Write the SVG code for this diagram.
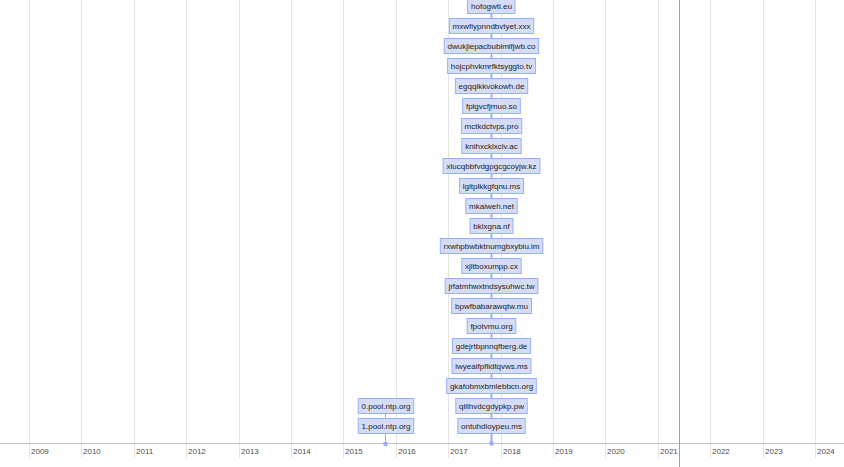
<svg xmlns="http://www.w3.org/2000/svg" width="844" height="467" viewBox="0 0 844 467">
<style>
.grid{stroke:#e5e5e5;stroke-width:1}
.axis{stroke:#bfbfbf;stroke-width:1}
.yr{font-family:"Liberation Sans",Arial,sans-serif;font-size:8px;fill:#4d4d4d}
.box rect{fill:#d5ddf6;stroke:#97b0f8;stroke-width:1}
.box text{font-family:"Liberation Sans",Arial,sans-serif;font-size:8px;fill:#1a1a1a;text-anchor:middle}
.stem{stroke:#97b0f8}
.dot{fill:#97b0f8}
</style>
<rect width="844" height="467" fill="#ffffff"/>
<g id="grid">
<line class="grid" x1="29.5" y1="0" x2="29.5" y2="458"/>
<line class="grid" x1="81.5" y1="0" x2="81.5" y2="458"/>
<line class="grid" x1="134.5" y1="0" x2="134.5" y2="458"/>
<line class="grid" x1="186.5" y1="0" x2="186.5" y2="458"/>
<line class="grid" x1="239.5" y1="0" x2="239.5" y2="458"/>
<line class="grid" x1="291.5" y1="0" x2="291.5" y2="458"/>
<line class="grid" x1="343.5" y1="0" x2="343.5" y2="458"/>
<line class="grid" x1="396.5" y1="0" x2="396.5" y2="458"/>
<line class="grid" x1="448.5" y1="0" x2="448.5" y2="458"/>
<line class="grid" x1="501.5" y1="0" x2="501.5" y2="458"/>
<line class="grid" x1="553.5" y1="0" x2="553.5" y2="458"/>
<line class="grid" x1="605.5" y1="0" x2="605.5" y2="458"/>
<line class="grid" x1="658.5" y1="0" x2="658.5" y2="458"/>
<line class="grid" x1="710.5" y1="0" x2="710.5" y2="458"/>
<line class="grid" x1="763.5" y1="0" x2="763.5" y2="458"/>
<line class="grid" x1="815.5" y1="0" x2="815.5" y2="458"/>
<line class="axis" x1="0" y1="443.5" x2="844" y2="443.5"/>
</g>
<g id="axis-labels">
<text class="yr" x="31" y="453.5">2009</text>
<text class="yr" x="83" y="453.5">2010</text>
<text class="yr" x="136" y="453.5">2011</text>
<text class="yr" x="188" y="453.5">2012</text>
<text class="yr" x="241" y="453.5">2013</text>
<text class="yr" x="293" y="453.5">2014</text>
<text class="yr" x="345" y="453.5">2015</text>
<text class="yr" x="398" y="453.5">2016</text>
<text class="yr" x="450" y="453.5">2017</text>
<text class="yr" x="503" y="453.5">2018</text>
<text class="yr" x="555" y="453.5">2019</text>
<text class="yr" x="607" y="453.5">2020</text>
<text class="yr" x="660" y="453.5">2021</text>
<text class="yr" x="712" y="453.5">2022</text>
<text class="yr" x="765" y="453.5">2023</text>
<text class="yr" x="817" y="453.5">2024</text>
</g>
<g id="connectors">
<line class="stem" x1="491.5" y1="0" x2="491.5" y2="443" stroke-width="2"/>
<rect class="dot" x="489.5" y="441.5" width="4" height="4"/>
<line class="stem" x1="385.5" y1="413" x2="385.5" y2="443" stroke-width="1"/>
<rect class="dot" x="383.5" y="442" width="4" height="4"/>
</g>
<g id="n1" class="box"><rect x="467.6" y="-1.5" width="47.4" height="15"/><text x="491.5" y="8.7">hofogwtl.eu</text></g>
<g id="n2" class="box"><rect x="449.4" y="18.5" width="84.3" height="15"/><text x="491.5" y="28.7">mxwfiypnndbvtyet.xxx</text></g>
<g id="n3" class="box"><rect x="444.2" y="38.5" width="94.5" height="15"/><text x="491.5" y="48.7">dwukjiepacbubimifjwb.co</text></g>
<g id="n4" class="box"><rect x="447.6" y="58.5" width="87.9" height="15"/><text x="491.5" y="68.7">hojcphvkmrfktsyggto.tv</text></g>
<g id="n5" class="box"><rect x="455.4" y="78.5" width="72.3" height="15"/><text x="491.5" y="88.7">egqqlkkvokowh.de</text></g>
<g id="n6" class="box"><rect x="462.7" y="98.5" width="57.6" height="15"/><text x="491.5" y="108.7">fplgvcfjmuo.so</text></g>
<g id="n7" class="box"><rect x="461.4" y="118.5" width="60.3" height="15"/><text x="491.5" y="128.7">mctkdctvps.pro</text></g>
<g id="n8" class="box"><rect x="461.8" y="138.5" width="59.4" height="15"/><text x="491.5" y="148.7">knihxcklxclv.ac</text></g>
<g id="n9" class="box"><rect x="443.1" y="158.5" width="96.8" height="15"/><text x="491.5" y="168.7">xlucqbbfvdgpgcgcoyjw.kz</text></g>
<g id="n10" class="box"><rect x="459.6" y="178.5" width="63.9" height="15"/><text x="491.5" y="188.7">lgitplkkgfqnu.ms</text></g>
<g id="n11" class="box"><rect x="465.8" y="198.5" width="51.4" height="15"/><text x="491.5" y="208.7">mkaiweh.net</text></g>
<g id="n12" class="box"><rect x="470" y="218.5" width="43" height="15"/><text x="491.5" y="228.7">bklxgna.nf</text></g>
<g id="n13" class="box"><rect x="440.3" y="238.5" width="102.5" height="15"/><text x="491.5" y="248.7">rxwhpbwbktnumgbxybiu.im</text></g>
<g id="n14" class="box"><rect x="461.8" y="258.5" width="59.4" height="15"/><text x="491.5" y="268.7">xjltboxumpp.cx</text></g>
<g id="n15" class="box"><rect x="445.2" y="278.5" width="92.7" height="15"/><text x="491.5" y="288.7">jrfatmhwxtndsysuhwc.tw</text></g>
<g id="n16" class="box"><rect x="451.6" y="298.5" width="79.9" height="15"/><text x="491.5" y="308.7">bpwfbabarawqtw.mu</text></g>
<g id="n17" class="box"><rect x="467.1" y="318.5" width="48.7" height="15"/><text x="491.5" y="328.7">fpotvmu.org</text></g>
<g id="n18" class="box"><rect x="452.5" y="338.5" width="78.1" height="15"/><text x="491.5" y="348.7">gdejrtbpnnqfberg.de</text></g>
<g id="n19" class="box"><rect x="452" y="358.5" width="79" height="15"/><text x="491.5" y="368.7">lwyeaifpflidtqvws.ms</text></g>
<g id="n20" class="box"><rect x="446.7" y="378.5" width="89.6" height="15"/><text x="491.5" y="388.7">gkafobmxbmlebbcn.org</text></g>
<g id="n21" class="box"><rect x="455.8" y="398.5" width="71.4" height="15"/><text x="491.5" y="408.7">qlilhvdcgdypkp.pw</text></g>
<g id="n22" class="box"><rect x="457.8" y="418.5" width="67.4" height="15"/><text x="491.5" y="428.7">ontuhdioypeu.ms</text></g>
<g id="n23" class="box"><rect x="358.3" y="398.5" width="55.4" height="15"/><text x="386" y="408.7">0.pool.ntp.org</text></g>
<g id="n24" class="box"><rect x="358.3" y="418.5" width="55.4" height="15"/><text x="386" y="428.7">1.pool.ntp.org</text></g>
<line id="current-time" x1="679.5" y1="0" x2="679.5" y2="467" stroke="#f08070" stroke-width="1"/>
</svg>
